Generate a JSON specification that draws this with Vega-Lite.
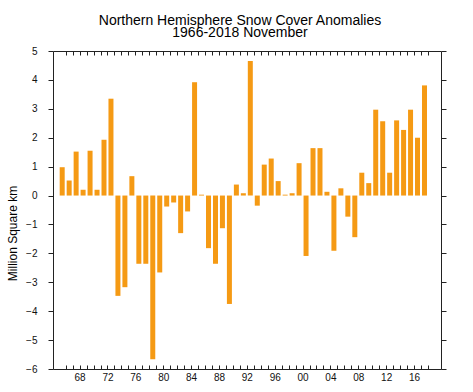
{
  "$schema": "https://vega.github.io/schema/vega-lite/v6.json",
  "width": 388,
  "height": 318,
  "autosize": {"type": "none"},
  "padding": {"left": 53, "top": 51, "right": 32, "bottom": 23},
  "config": {
    "font": "Liberation Sans",
    "view": {"stroke": "#222222", "strokeWidth": 1},
    "axis": {"domain": false, "grid": false, "tickColor": "#222222", "tickWidth": 1, "labelColor": "#111111", "labelFont": "Liberation Sans", "labelFontSize": 10, "labelOverlap": false, "labelFlush": false}
  },
  "title": {
    "text": ["Northern Hemisphere Snow Cover Anomalies", "1966-2018 November"],
    "font": "Liberation Sans",
    "fontSize": 14,
    "fontWeight": "normal",
    "color": "#000000",
    "lineHeight": 12,
    "anchor": "middle",
    "dx": -7,
    "dy": 20,
    "baseline": "bottom",
    "offset": 12
  },
  "data": {"values": [
    {"year": 1966, "anomaly": 0.98},
    {"year": 1967, "anomaly": 0.52},
    {"year": 1968, "anomaly": 1.52},
    {"year": 1969, "anomaly": 0.2},
    {"year": 1970, "anomaly": 1.55},
    {"year": 1971, "anomaly": 0.2},
    {"year": 1972, "anomaly": 1.93},
    {"year": 1973, "anomaly": 3.35},
    {"year": 1974, "anomaly": -3.47},
    {"year": 1975, "anomaly": -3.17},
    {"year": 1976, "anomaly": 0.67},
    {"year": 1977, "anomaly": -2.36},
    {"year": 1978, "anomaly": -2.36},
    {"year": 1979, "anomaly": -5.66},
    {"year": 1980, "anomaly": -2.66},
    {"year": 1981, "anomaly": -0.38},
    {"year": 1982, "anomaly": -0.24},
    {"year": 1983, "anomaly": -1.3},
    {"year": 1984, "anomaly": -0.55},
    {"year": 1985, "anomaly": 3.92},
    {"year": 1986, "anomaly": 0.03},
    {"year": 1987, "anomaly": -1.82},
    {"year": 1988, "anomaly": -2.36},
    {"year": 1989, "anomaly": -1.13},
    {"year": 1990, "anomaly": -3.75},
    {"year": 1991, "anomaly": 0.38},
    {"year": 1992, "anomaly": 0.08},
    {"year": 1993, "anomaly": 4.65},
    {"year": 1994, "anomaly": -0.35},
    {"year": 1995, "anomaly": 1.07},
    {"year": 1996, "anomaly": 1.28},
    {"year": 1997, "anomaly": 0.5},
    {"year": 1998, "anomaly": 0.03},
    {"year": 1999, "anomaly": 0.08},
    {"year": 2000, "anomaly": 1.12},
    {"year": 2001, "anomaly": -2.09},
    {"year": 2002, "anomaly": 1.64},
    {"year": 2003, "anomaly": 1.64},
    {"year": 2004, "anomaly": 0.13},
    {"year": 2005, "anomaly": -1.91},
    {"year": 2006, "anomaly": 0.25},
    {"year": 2007, "anomaly": -0.73},
    {"year": 2008, "anomaly": -1.44},
    {"year": 2009, "anomaly": 0.79},
    {"year": 2010, "anomaly": 0.43},
    {"year": 2011, "anomaly": 2.97},
    {"year": 2012, "anomaly": 2.57},
    {"year": 2013, "anomaly": 0.79},
    {"year": 2014, "anomaly": 2.6},
    {"year": 2015, "anomaly": 2.27},
    {"year": 2016, "anomaly": 2.97},
    {"year": 2017, "anomaly": 2.0},
    {"year": 2018, "anomaly": 3.81}
  ]},
  "layer": [
    {
      "mark": {"type": "bar", "width": 5, "color": "#F59A14"},
      "encoding": {
        "x": {
          "field": "year", "type": "quantitative",
          "scale": {"domain": [1964.68, 2020.37], "nice": false, "zero": false, "padding": 0},
          "axis": {
            "orient": "bottom", "title": null,
            "values": [1966,1967,1968,1969,1970,1971,1972,1973,1974,1975,1976,1977,1978,1979,1980,1981,1982,1983,1984,1985,1986,1987,1988,1989,1990,1991,1992,1993,1994,1995,1996,1997,1998,1999,2000,2001,2002,2003,2004,2005,2006,2007,2008,2009,2010,2011,2012,2013,2014,2015,2016,2017,2018],
            "format": "d",
            "labelExpr": "datum.value % 4 == 0 ? substring(datum.label, 2, 4) : ''",
            "tickOffset": 3.48,
            "tickSize": -4,
            "labelPadding": 7
          }
        },
        "y": {
          "field": "anomaly", "type": "quantitative",
          "scale": {"domain": [-6, 5], "nice": false, "zero": false, "padding": 0},
          "axis": {
            "orient": "left",
            "values": [-6,-5,-4,-3,-2,-1,0,1,2,3,4,5],
            "tickSize": 5,
            "labelPadding": 11,
            "title": "Million Square km",
            "titleFont": "Liberation Sans",
            "titleFontSize": 12,
            "titleFontWeight": "normal",
            "titleColor": "#000000",
            "titleAngle": -90,
            "titleAlign": "center",
            "titleBaseline": "alphabetic",
            "titleX": -37,
            "titleY": 182
          }
        },
        "y2": {"datum": 0}
      }
    },
    {
      "mark": {"type": "bar", "width": 5, "opacity": 0},
      "encoding": {
        "x": {
          "field": "year", "type": "quantitative",
          "scale": {"domain": [1964.68, 2020.37], "nice": false, "zero": false, "padding": 0},
          "axis": {
            "orient": "top", "title": null, "labels": false,
            "values": [1966,1967,1968,1969,1970,1971,1972,1973,1974,1975,1976,1977,1978,1979,1980,1981,1982,1983,1984,1985,1986,1987,1988,1989,1990,1991,1992,1993,1994,1995,1996,1997,1998,1999,2000,2001,2002,2003,2004,2005,2006,2007,2008,2009,2010,2011,2012,2013,2014,2015,2016,2017,2018],
            "tickOffset": 3.48,
            "tickSize": -4
          }
        },
        "y": {
          "field": "anomaly", "type": "quantitative",
          "scale": {"domain": [-6, 5], "nice": false, "zero": false, "padding": 0},
          "axis": {
            "orient": "right", "title": null, "labels": false,
            "values": [-6,-5,-4,-3,-2,-1,0,1,2,3,4,5],
            "tickSize": 5
          }
        },
        "y2": {"datum": 0}
      }
    }
  ],
  "resolve": {"axis": {"x": "independent", "y": "independent"}}
}
